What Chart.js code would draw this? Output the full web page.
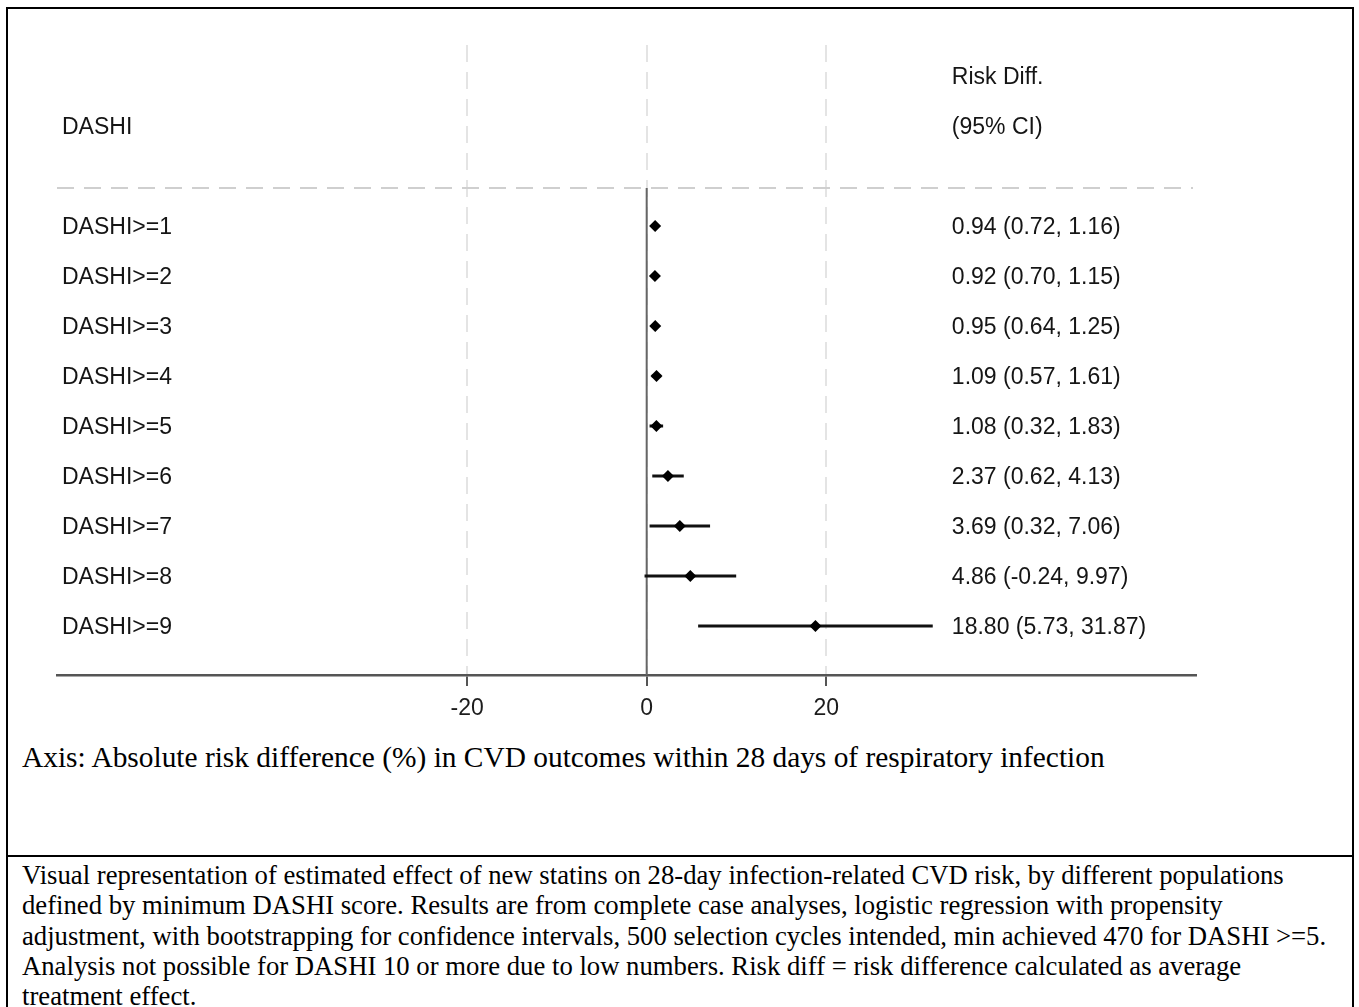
<!DOCTYPE html>
<html>
<head>
<meta charset="utf-8">
<script src="https://cdn.jsdelivr.net/npm/chart.js@4"></script>
<style>
  html, body { margin: 0; padding: 0; background: #fff; }
  body { width: 1359px; height: 1007px; position: relative; overflow: hidden; }
  #frame { position: absolute; left: 6px; top: 7px; width: 1344px; height: 1020px; border: 2px solid #000; }
  #sep { position: absolute; left: 6px; top: 855px; width: 1348px; height: 2px; background: #000; }
  #plot { position: absolute; left: 0; top: 0; }
  #axisTitle { position: absolute; left: 22px; top: 742px; font: 29.4px "Liberation Serif", "Times New Roman", serif; line-height: 30px; color: #000; white-space: nowrap; }
  #caption { position: absolute; left: 22px; top: 860px; font: 26.7px "Liberation Serif", "Times New Roman", serif; line-height: 30.3px; color: #000; white-space: nowrap; }
</style>
</head>
<body>
<div id="frame"></div>
<div id="sep"></div>
<canvas id="plot" width="1359" height="740"></canvas>
<div id="axisTitle">Axis: Absolute risk difference (%) in CVD outcomes within 28 days of respiratory infection</div>
<div id="caption">Visual representation of estimated effect of new statins on 28-day infection-related CVD risk, by different populations<br>defined by minimum DASHI score. Results are from complete case analyses, logistic regression with propensity<br>adjustment, with bootstrapping for confidence intervals, 500 selection cycles intended, min achieved 470 for DASHI &gt;=5.<br>Analysis not possible for DASHI 10 or more due to low numbers. Risk diff = risk difference calculated as average<br>treatment effect.</div>

<script>
// forest plot rows
const groups = ['DASHI>=1', 'DASHI>=2', 'DASHI>=3', 'DASHI>=4', 'DASHI>=5', 'DASHI>=6', 'DASHI>=7', 'DASHI>=8', 'DASHI>=9'];
const riskDiff = [0.94, 0.92, 0.95, 1.09, 1.08, 2.37, 3.69, 4.86, 18.80];
const ciLow = [0.72, 0.70, 0.64, 0.57, 0.32, 0.62, 0.32, -0.24, 5.73];
const ciHigh = [1.16, 1.15, 1.25, 1.61, 1.83, 4.13, 7.06, 9.97, 31.87];
const xTicks = [-20, 0, 20];

const FONT = '23px "Liberation Sans", Arial, sans-serif';
const statCol = 34;      // x value where the estimate column starts
const headerRule = 0.24; // y value of the dashed rule under the header

const points = riskDiff.map((v, i) => ({ x: v, y: i + 1 }));

const forestPlugin = {
  id: 'forest',
  beforeDatasetsDraw(chart) {
    const { ctx, chartArea } = chart;
    const xs = chart.scales.x, ys = chart.scales.y;
    const ruleY = ys.getPixelForValue(headerRule);

    ctx.save();
    // dashed header rule
    ctx.strokeStyle = '#cfcfcf';
    ctx.lineWidth = 2;
    ctx.setLineDash([17, 10]);
    ctx.beginPath();
    ctx.moveTo(chartArea.left, ruleY);
    ctx.lineTo(chartArea.right - 3, ruleY);
    ctx.stroke();
    ctx.setLineDash([]);

    // null effect line
    const x0 = xs.getPixelForValue(0);
    ctx.strokeStyle = '#666';
    ctx.lineWidth = 2;
    ctx.beginPath();
    ctx.moveTo(x0, ruleY);
    ctx.lineTo(x0, chartArea.bottom);
    ctx.stroke();

    // confidence intervals
    ctx.strokeStyle = '#111';
    ctx.lineWidth = 3;
    groups.forEach((g, i) => {
      const y = ys.getPixelForValue(i + 1);
      ctx.beginPath();
      ctx.moveTo(xs.getPixelForValue(ciLow[i]), y);
      ctx.lineTo(xs.getPixelForValue(ciHigh[i]), y);
      ctx.stroke();
    });
    ctx.restore();
  },
  afterDraw(chart) {
    const { ctx, chartArea } = chart;
    const xs = chart.scales.x, ys = chart.scales.y;
    const left = chartArea.left + 5;
    const statX = xs.getPixelForValue(statCol);
    const dy = 2;

    ctx.save();
    ctx.font = FONT;
    ctx.fillStyle = '#151515';
    ctx.textBaseline = 'middle';
    ctx.textAlign = 'left';
    ctx.fillText('DASHI', left, ys.getPixelForValue(-1) + dy);
    ctx.fillText('Risk Diff.', statX, ys.getPixelForValue(-2) + dy);
    ctx.fillText('(95% CI)', statX, ys.getPixelForValue(-1) + dy);
    groups.forEach((g, i) => {
      const y = ys.getPixelForValue(i + 1) + dy;
      ctx.fillText(g, left, y);
      const txt = riskDiff[i].toFixed(2) + ' (' + ciLow[i].toFixed(2) + ', ' + ciHigh[i].toFixed(2) + ')';
      ctx.fillText(txt, statX, y);
    });
    ctx.restore();
  }
};

new Chart(document.getElementById('plot'), {
  type: 'scatter',
  data: {
    datasets: [{
      data: points,
      pointStyle: 'rectRot',
      pointRadius: 6,
      backgroundColor: '#000',
      borderWidth: 0
    }]
  },
  options: {
    responsive: false,
    animation: false,
    events: [],
    layout: { padding: { left: 57, right: 163, top: 45, bottom: 0 } },
    plugins: { legend: { display: false }, tooltip: { enabled: false } },
    scales: {
      x: {
        type: 'linear',
        min: -65.7,
        max: 61.2,
        afterBuildTicks(scale) { scale.ticks = xTicks.map(v => ({ value: v })); },
        afterFit(scale) { scale.height = 65; },
        grid: {
          color: '#e4e4e4',
          lineWidth: 2,
          tickColor: '#555',
          tickWidth: 2,
          tickLength: 11
        },
        border: { display: true, color: '#555', width: 2.5, dash: [17, 10] },
        ticks: {
          font: { family: '"Liberation Sans", Arial, sans-serif', size: 23 },
          color: '#1c1c1c',
          padding: 9,
          maxRotation: 0
        }
      },
      y: {
        type: 'linear',
        reverse: true,
        min: -2.62,
        max: 9.98,
        display: false
      }
    }
  },
  plugins: [forestPlugin]
});
</script>
</body>
</html>
